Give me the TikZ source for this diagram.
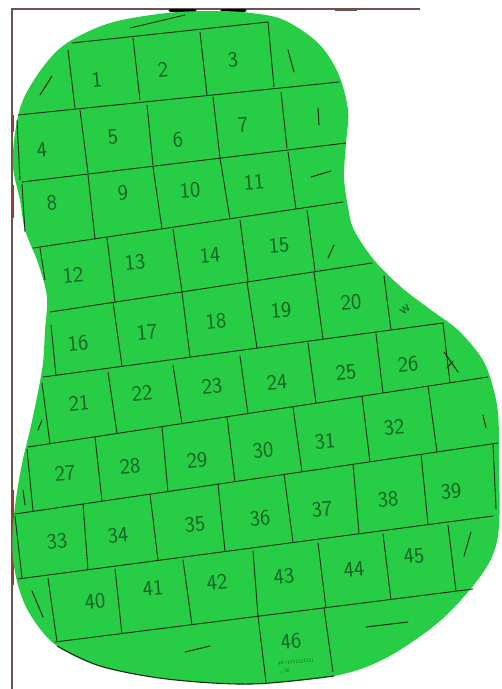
\documentclass[tikz,border=0pt]{standalone}
\definecolor{blobgreen}{RGB}{40,205,70}
\definecolor{penline}{RGB}{15,45,18}
\definecolor{pennum}{RGB}{22,100,38}
\definecolor{framecol}{RGB}{105,85,80}
\begin{document}
\begin{tikzpicture}[x=1pt,y=-1pt,
  num/.style={text=pennum, font=\sffamily\fontsize{22}{22}\selectfont, rotate=5, inner sep=0pt},
  tiny/.style={text=pennum, font=\sffamily\fontsize{5}{5}\selectfont, rotate=5, inner sep=0pt},
  gridline/.style={draw=penline, line width=0.9pt, line cap=round},
  penmark/.style={draw=penline, line width=1pt, line cap=round},
  framel/.style={draw=framecol, line width=1.4pt}]
\useasboundingbox (0,0) rectangle (502,689);
\fill[white] (0,0) rectangle (502,689);
% frame
\draw[framel] (12,689) -- (12,9) -- (420,9);
\draw[draw=black, line width=3pt, line cap=round] (170,10) -- (195,10);
\draw[draw=black, line width=3pt, line cap=round] (222,10) -- (245,10);
\draw[draw=framecol, line width=3pt] (335,9) -- (357,9);
\draw[draw=framecol!70!red, line width=3pt] (12,115) -- (12,132);
\draw[draw=framecol!70!red, line width=3pt] (12,185) -- (12,218);
\draw[draw=framecol!70!red, line width=3pt] (12,490) -- (12,585);
% blob
\fill[blobgreen] plot[smooth cycle, tension=0.55] coordinates {
(167,13) (217,11) (251,13) (284,20) (318,43) (338,73) (348,110) (346,143)
(344,177) (348,207) (354,230) (374,260) (401,287) (431,310) (458,330)
(481,357) (491,380) (498,413) (499,460) (499,526) (491,559) (468,592)
(434,626) (384,659) (334,676) (251,684) (167,679) (100,666) (57,646)
(33,619) (20,592) (13,559) (13,526) (17,492) (23,459) (30,430) (37,397)
(43,363) (45,330) (47,297) (38,263) (25,230) (20,200) (13,167) (15,133)
(23,100) (43,67) (67,43) (110,23)};
\draw[draw=penline, line width=1.1pt] plot[smooth, tension=0.55] coordinates {
(57,646) (100,666) (167,679) (251,684) (334,676)};
% horizontal lines
\draw[gridline] (72,43) -- (268,22);
\draw[gridline] (18,115) -- (339,82);
\draw[gridline] (22,182) -- (346,143);
\draw[gridline] (33,248) -- (343,202);
\draw[gridline] (50,312) -- (372,263);
\draw[gridline] (43,377) -- (443,323);
\draw[gridline] (28,447) -- (488,377);
\draw[gridline] (15,514) -- (498,443);
\draw[gridline] (18,579) -- (493,516);
\draw[gridline] (55,642) -- (473,589);
\draw[gridline] (130,28) -- (185,15);
% row 1
\draw[gridline] (68,50) -- (75,108);
\draw[gridline] (133,38) -- (140,100);
\draw[gridline] (200,32) -- (207,95);
\draw[gridline] (268,22) -- (274,87);
% row 2
\draw[gridline] (17,120) -- (20,180);
\draw[gridline] (80,110) -- (88,173);
\draw[gridline] (147,105) -- (153,165);
\draw[gridline] (213,97) -- (220,158);
\draw[gridline] (281,92) -- (287,148);
% row 3
\draw[gridline] (22,184) -- (25,232);
\draw[gridline] (88,175) -- (95,239);
\draw[gridline] (153,167) -- (162,229);
\draw[gridline] (220,158) -- (230,219);
\draw[gridline] (288,152) -- (296,209);
% row 4
\draw[gridline] (40,248) -- (45,280);
\draw[gridline] (107,238) -- (115,302);
\draw[gridline] (173,229) -- (182,292);
\draw[gridline] (240,220) -- (248,281);
\draw[gridline] (307,210) -- (315,271);
% row 5
\draw[gridline] (51,325) -- (56,376);
\draw[gridline] (113,302) -- (122,366);
\draw[gridline] (182,292) -- (190,357);
\draw[gridline] (247,282) -- (257,348);
\draw[gridline] (314,272) -- (323,339);
\draw[gridline] (384,276) -- (391,330);
% row 6
\draw[gridline] (42,383) -- (50,444);
\draw[gridline] (108,372) -- (117,433);
\draw[gridline] (173,365) -- (182,424);
\draw[gridline] (240,356) -- (248,414);
\draw[gridline] (308,343) -- (316,403);
\draw[gridline] (376,334) -- (383,393);
\draw[gridline] (443,323) -- (450,383);
% row 7
\draw[gridline] (27,449) -- (33,511);
\draw[gridline] (95,437) -- (102,501);
\draw[gridline] (162,427) -- (168,492);
\draw[gridline] (227,417) -- (235,482);
\draw[gridline] (293,407) -- (302,472);
\draw[gridline] (362,396) -- (370,462);
\draw[gridline] (428,386) -- (437,452);
% row 8
\draw[gridline] (15,516) -- (22,578);
\draw[gridline] (83,504) -- (88,570);
\draw[gridline] (150,494) -- (158,560);
\draw[gridline] (218,484) -- (225,551);
\draw[gridline] (284,474) -- (293,542);
\draw[gridline] (353,464) -- (359,533);
\draw[gridline] (421,454) -- (428,524);
\draw[gridline] (493,444) -- (496,509);
% row 9
\draw[gridline] (48,578) -- (57,642);
\draw[gridline] (115,569) -- (122,634);
\draw[gridline] (183,560) -- (192,625);
\draw[gridline] (253,551) -- (258,616);
\draw[gridline] (318,543) -- (326,608);
\draw[gridline] (383,534) -- (391,600);
\draw[gridline] (448,525) -- (456,591);
% row 10
\draw[gridline] (258,616) -- (266,682);
\draw[gridline] (324,608) -- (333,672);
% marks
\draw[penmark] (40,95) -- (52,76);
\draw[penmark] (288,50) -- (294,72);
\draw[penmark] (318,108) -- (319,125);
\draw[penmark] (311,177) -- (331,171);
\draw[penmark] (328,258) -- (334,245);
\draw[penmark] (444,352) -- (458,372);
\draw[penmark] (447,368) -- (453,361);
\draw[penmark] (38,430) -- (42,420);
\draw[penmark] (483,415) -- (486,428);
\draw[penmark] (23,490) -- (25,505);
\draw[penmark] (32,591) -- (43,617);
\draw[penmark] (464,556) -- (471,532);
\draw[penmark] (185,652) -- (210,646);
\draw[penmark] (366,627) -- (408,622);
\node[text=pennum, font=\sffamily\fontsize{16}{16}\selectfont, rotate=40, inner sep=0pt] (wmark) at (405,310) {w};
% numbers
\node[num] (n1) at (97,80) {1};
\node[num] (n2) at (163,70) {2};
\node[num] (n3) at (233,60) {3};
\node[num] (n4) at (42,150) {4};
\node[num] (n5) at (113,137) {5};
\node[num] (n6) at (178,140) {6};
\node[num] (n7) at (243,125) {7};
\node[num] (n8) at (52,203) {8};
\node[num] (n9) at (123,193) {9};
\node[num] (n10) at (190,190) {10};
\node[num] (n11) at (254,182) {11};
\node[num] (n12) at (73,275) {12};
\node[num] (n13) at (135,262) {13};
\node[num] (n14) at (210,255) {14};
\node[num] (n15) at (279,245) {15};
\node[num] (n16) at (78,343) {16};
\node[num] (n17) at (147,332) {17};
\node[num] (n18) at (216,321) {18};
\node[num] (n19) at (281,310) {19};
\node[num] (n20) at (351,302) {20};
\node[num] (n21) at (79,403) {21};
\node[num] (n22) at (142,393) {22};
\node[num] (n23) at (212,386) {23};
\node[num] (n24) at (277,382) {24};
\node[num] (n25) at (346,372) {25};
\node[num] (n26) at (408,364) {26};
\node[num] (n27) at (65,473) {27};
\node[num] (n28) at (130,466) {28};
\node[num] (n29) at (197,460) {29};
\node[num] (n30) at (263,450) {30};
\node[num] (n31) at (325,441) {31};
\node[num] (n32) at (394,427) {32};
\node[num] (n33) at (57,541) {33};
\node[num] (n34) at (118,535) {34};
\node[num] (n35) at (195,524) {35};
\node[num] (n36) at (260,518) {36};
\node[num] (n37) at (322,509) {37};
\node[num] (n38) at (388,499) {38};
\node[num] (n39) at (451,491) {39};
\node[num] (n40) at (95,601) {40};
\node[num] (n41) at (153,588) {41};
\node[num] (n42) at (217,582) {42};
\node[num] (n43) at (284,576) {43};
\node[num] (n44) at (354,569) {44};
\node[num] (n45) at (414,556) {45};
\node[num] (n46) at (291,641) {46};
\node[tiny] (sum1) at (296,662) {46+1111111111};
\node[tiny] (sum2) at (285,671) {=56};
\end{tikzpicture}
\end{document}
